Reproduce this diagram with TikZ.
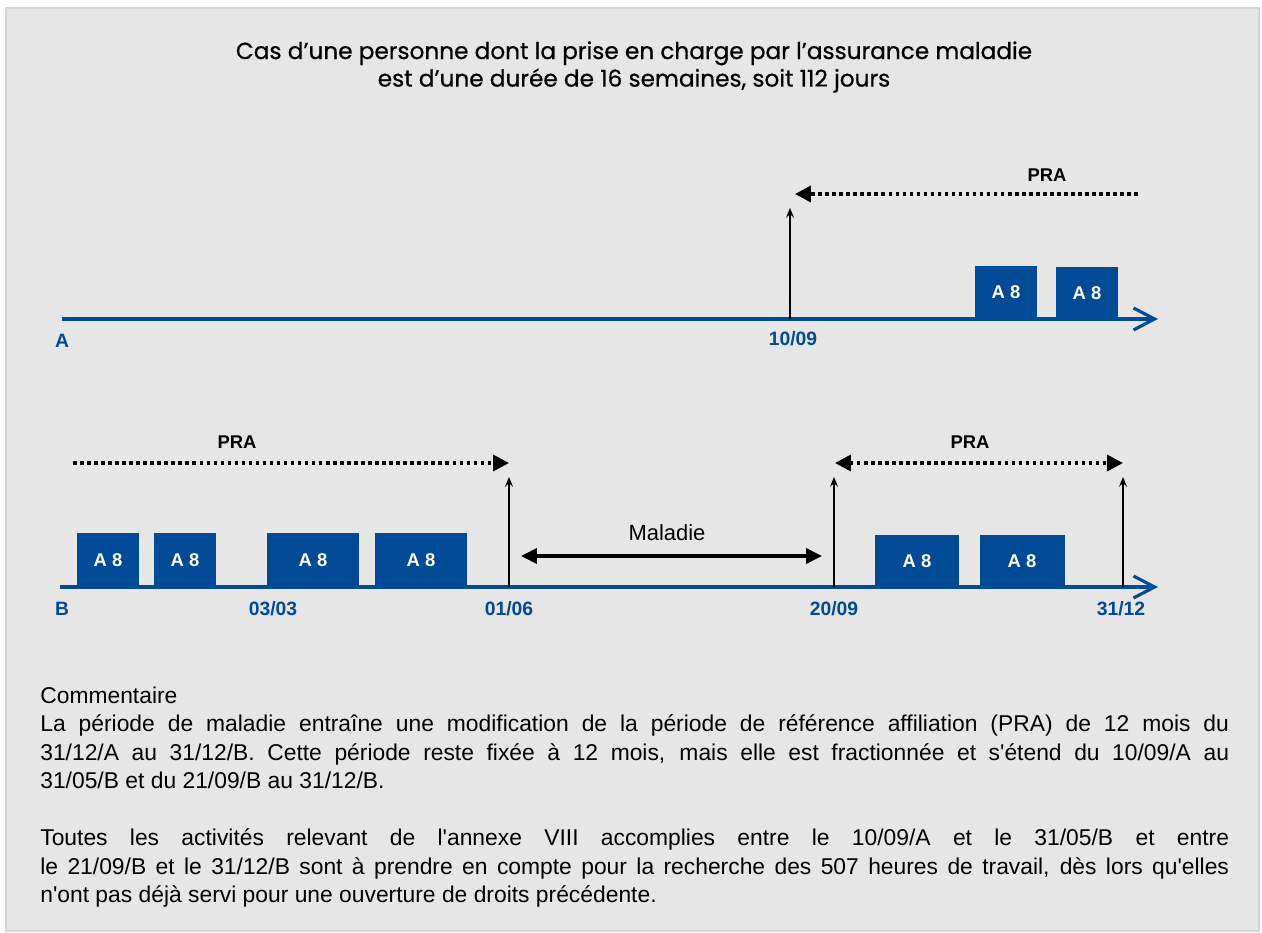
\documentclass[tikz,border=0pt]{standalone}
\usepackage{fontspec}
\setmainfont{Liberation Sans}[Ligatures=TeXOff]
\newfontfamily\titrefont{Poppins}[BoldFont={Poppins},BoldFeatures={FakeBold=0.7}]
\usetikzlibrary{arrows.meta}
\usetikzlibrary{positioning}

\definecolor{bleu}{HTML}{014A96}
\definecolor{fond}{HTML}{E6E6E6}
\definecolor{bord}{HTML}{D4D4D4}

\begin{document}
\begin{tikzpicture}
		[x=0.02cm,y=-0.02cm,
		tri/.tip={Triangle[length=9pt,width=9pt]},
		axe/.style={draw=bleu,line width=2.2pt,-{Straight Barb[length=12pt,width=12.5pt,line width=1.8pt]}},
		montee/.style={line width=1.6pt,-{Stealth[length=5.5pt,width=4.5pt,inset=2pt]}},
		pra/.style={line width=2pt,dash pattern=on 2pt off 2pt},
		boite/.style={fill=bleu,text=white,inner sep=0pt,font=\bfseries\fontsize{10.5}{12}\selectfont},
		date/.style={text=bleu,inner sep=0pt,font=\bfseries\fontsize{11}{13}\selectfont},
		nompra/.style={inner sep=0pt,font=\bfseries\fontsize{10.5}{12}\selectfont}]
		\useasboundingbox (0,0) rectangle (1262,933);
		\filldraw[fill=fond,draw=bord,line width=0.8pt] (6,8) rectangle (1259,931);
		
		\node[align=center,font=\titrefont\bfseries\fontsize{13.2}{15.7}\selectfont] (titre) at (634,67)
		{Cas d’une personne dont la prise en charge par l’assurance maladie\\est d’une durée de 16 semaines, soit 112 jours};
		
		\coordinate (A0) at (62,319);
		\coordinate (A1) at (1158,319);
		\coordinate (B0) at (60,587);
		\coordinate (B1) at (1158,587);
		\draw[axe] (A0) -- (A1);
		\draw[axe] (B0) -- (B1);
		
		\node[date] (nA) at (62,341) {A};
		\node[date] (nB) at (62,609) {B};
		\node[date] (d1009) at (793,339) {10/09};
		\node[date] (d0303) at (273,609) {03/03};
		\node[date] (d0106) at (509,609) {01/06};
		\node[date] (d2009) at (834,609) {20/09};
		\node[date] (d3112) at (1121,609) {31/12};
		
		\node[boite,minimum width=1.24cm,minimum height=1.06cm] (a1) at (1006,292.5) {A 8};
		\node[boite,minimum width=1.24cm,minimum height=1.04cm] (a2) at (1087,293) {A 8};
		\node[boite,minimum width=1.24cm,minimum height=1.08cm] (b1) at (108,560) {A 8};
		\node[boite,minimum width=1.24cm,minimum height=1.08cm] (b2) at (185,560) {A 8};
		\node[boite,minimum width=1.84cm,minimum height=1.08cm] (b3) at (313,560) {A 8};
		\node[boite,minimum width=1.84cm,minimum height=1.08cm] (b4) at (421,560) {A 8};
		\node[boite,minimum width=1.70cm,minimum height=1.04cm] (b5) at (917,561) {A 8};
		\node[boite,minimum width=1.70cm,minimum height=1.04cm] (b6) at (1022,561) {A 8};
		
		\coordinate (t1009) at (790,319);
		\coordinate (h1009) at (790,208);
		\coordinate (t0106) at (509,587);
		\coordinate (h0106) at (509,477);
		\coordinate (t2009) at (834,587);
		\coordinate (h2009) at (834,477);
		\coordinate (t3112) at (1123,587);
		\coordinate (h3112) at (1123,477);
		\foreach \from/\to in
		{t1009/h1009, t0106/h0106, t2009/h2009, t3112/h3112}
		\draw[montee] (\from) -- (\to);
		
		\coordinate (pA0) at (1138,194);
		\coordinate (pA1) at (795,194);
		\coordinate (pB0) at (73,463);
		\coordinate (pB1) at (509,463);
		\coordinate (pC0) at (835,463);
		\coordinate (pC1) at (1123,463);
		\draw[pra,-tri] (pA0) -- (pA1);
		\draw[pra,-tri] (pB0) -- (pB1);
		\draw[pra,tri-tri] (pC0) -- (pC1);
		\node[nompra] (praA) at (1047,175) {PRA};
		\node[nompra] (praB) at (237,442) {PRA};
		\node[nompra] (praC) at (970,442) {PRA};
		
		\coordinate (m0) at (521,556);
		\coordinate (m1) at (822,556);
		\draw[line width=2pt,{Triangle[length=9pt,width=8.5pt]}-{Triangle[length=9pt,width=8.5pt]}] (m0) -- (m1);
		\node[inner sep=0pt,font=\fontsize{12.5}{14}\selectfont] (mal) at (667,533) {Maladie};
		
		\node[anchor=north west,inner sep=0pt,text width=23.78cm,align=justify,
		font=\fontsize{13}{16.2}\selectfont] (comm) at (40,683)
		{\strut Commentaire\\
		La période de maladie entraîne une modification de la période de référence affiliation (PRA) de 12 mois du\linebreak
		31/12/A au 31/12/B. Cette période reste fixée à 12 mois, mais elle est fractionnée et s'étend du 10/09/A au\linebreak
		31/05/B et du 21/09/B au 31/12/B.\par\vspace{16.2pt}
		Toutes les activités relevant de l'annexe VIII accomplies entre le 10/09/A et le 31/05/B et entre\linebreak
		le 21/09/B et le 31/12/B sont à prendre en compte pour la recherche des 507 heures de travail, dès lors qu'elles\linebreak
		n'ont pas déjà servi pour une ouverture de droits précédente.};
\end{tikzpicture}
\end{document}
